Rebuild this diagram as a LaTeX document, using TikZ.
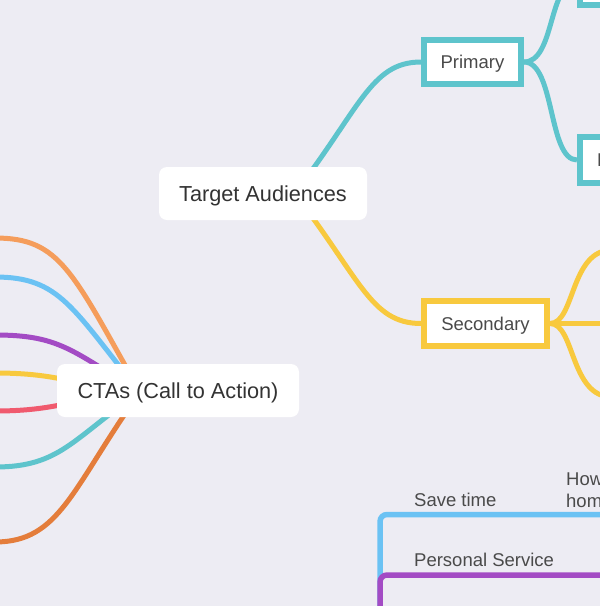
\documentclass[tikz,border=0pt]{standalone}
\usepackage{fontspec}
\setmainfont{Liberation Sans}
\usetikzlibrary{backgrounds,calc}
\definecolor{bg}{HTML}{EDECF3}
\definecolor{teal}{HTML}{5EC4CC}
\definecolor{yel}{HTML}{F8C93E}
\definecolor{lorange}{HTML}{F59D5B}
\definecolor{dorange}{HTML}{E47D3B}
\definecolor{lblue}{HTML}{6BC2F3}
\definecolor{purp}{HTML}{A34BC4}
\definecolor{pred}{HTML}{F05A6E}
\definecolor{txtmain}{HTML}{333333}
\definecolor{txtsub}{HTML}{4A4A4A}
\begin{document}
\begin{tikzpicture}[x=1pt,y=-1pt,
  mainbox/.style={fill=white, rounded corners=8pt, inner sep=0pt, text=txtmain,
    font=\fontsize{21.7}{26}\selectfont, text height=15.5pt, text depth=0pt},
  subbox/.style={fill=white, line width=6pt, inner sep=0pt, text=txtsub,
    font=\fontsize{18.5}{22}\selectfont, text height=13.3pt, text depth=0pt},
  lbl/.style={inner sep=0pt, anchor=west, text=txtsub, font=\fontsize{18.5}{22}\selectfont,
    text height=13.3pt, text depth=0pt},
  edge/.style={line width=5pt},
  frame/.style={line width=5.5pt, rounded corners=7pt}]
\useasboundingbox (0,0) rectangle (600,606);
\clip (0,0) rectangle (600,606);
\begin{scope}[on background layer]
  \fill[bg] (0,0) rectangle (600,606);
\end{scope}

% main nodes
\node[mainbox, minimum width=208pt, minimum height=53pt] (ta) at (263,193.5) {Target Audiences};
\node[mainbox, minimum width=242pt, minimum height=53pt] (cta) at (178,390.5) {CTAs (Call to Action)};
\node[subbox, draw=teal, minimum width=97pt, minimum height=44pt] (pri) at (472.5,62) {Primary};
\node[subbox, draw=yel, minimum width=123pt, minimum height=45pt] (sec) at (485.5,323.5) {Secondary};
\node[subbox, draw=teal, minimum width=120pt, minimum height=46pt] (pa) at (640,-18) {};
\node[subbox, draw=teal, minimum width=120pt, minimum height=46pt] (pb) at (640,160) {};
\node[lbl] (pbt) at (597,160) {Busy};

% free ends
\coordinate (hub) at ($(cta.center)+(-38,1.5)$);
\coordinate (c1) at (-5,238);
\coordinate (c2) at (-5,277);
\coordinate (c3) at (-5,335);
\coordinate (c4) at (-5,373);
\coordinate (c5) at (-5,411);
\coordinate (c6) at (-5,467);
\coordinate (c7) at (-5,542);
\coordinate (s1) at (612,250);
\coordinate (s2) at (620,323.5);
\coordinate (s3) at (612,397);

\begin{scope}[on background layer]
  \draw[edge, teal] ($(ta.center)+(27,6)$) .. controls (360,110) and (370,62) .. (pri.west);
  \draw[edge, yel] ($(ta.center)+(27,-6)$) .. controls (360,277) and (370,323.5) .. (sec.west);
  \draw[edge, teal] (pri.east) .. controls (555,62) and (548,-18) .. (pa.west);
  \draw[edge, teal] (pri.east) .. controls (555,62) and (548,160) .. (pb.west);
  \draw[edge, yel] (sec.east) .. controls (575,323.5) and (570,250) .. (s1);
  \draw[edge, yel] (sec.east) -- (s2);
  \draw[edge, yel] (sec.east) .. controls (575,323.5) and (570,397) .. (s3);
  \draw[edge, lorange] (c1) .. controls (60,238) and (72,271) .. (hub);
  \draw[edge, lblue]   (c2) .. controls (60,277) and (72,308) .. (hub);
  \draw[edge, purp]    (c3) .. controls (60,335) and (72,351) .. (hub);
  \draw[edge, yel]     (c4) .. controls (60,373) and (72,385) .. (hub);
  \draw[edge, pred]    (c5) .. controls (60,411) and (72,398) .. (hub);
  \draw[edge, teal]    (c6) .. controls (60,467) and (72,439) .. (hub);
  \draw[edge, dorange] (c7) .. controls (60,542) and (72,488) .. (hub);
\end{scope}

% bottom frames
\draw[frame, lblue] (380,640) -- (380,514.5) -- (660,514.5);
\draw[frame, purp] (380,640) -- (380,575) -- (660,575);

% labels
\node[lbl] (save) at (414,500) {Save time};
\node[lbl] (pers) at (414,560) {Personal Service};
\node[lbl] (how1) at (566,478.5) {How};
\node[lbl] (how2) at (566,500.5) {home};
\end{tikzpicture}
\end{document}
